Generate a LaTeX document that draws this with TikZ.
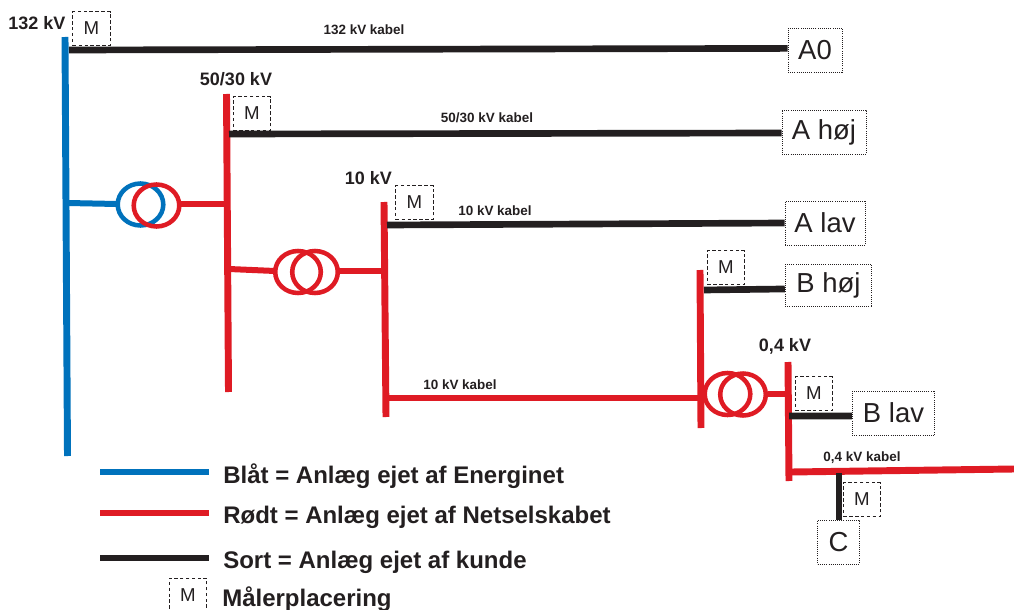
\documentclass[tikz,border=0pt]{standalone}
\usepackage{fontspec}
\setmainfont{Liberation Sans}
\definecolor{bl}{HTML}{0072BC}
\definecolor{rd}{HTML}{DF1B24}
\definecolor{bk}{HTML}{231F20}
\tikzset{
  bluew/.style={draw=bl,line width=5.2pt},
  redw/.style={draw=rd,line width=5.2pt},
  blackw/.style={draw=bk,line width=5pt},
  meter/.style={draw=bk,dash pattern=on 2.6pt off 1.8pt,line width=0.6pt,inner sep=0pt,font=\fontsize{14}{14}\selectfont,text=bk},
  load/.style={draw=bk,densely dotted,line width=0.6pt,inner sep=0pt,font=\fontsize{20.6}{21}\selectfont,text=bk},
  bus/.style={font=\bfseries\fontsize{13.5}{15}\selectfont,text=bk,inner sep=0pt},
  cab/.style={font=\bfseries\fontsize{10.1}{12}\selectfont,text=bk,inner sep=0pt},
  leg/.style={font=\bfseries\fontsize{18}{20}\selectfont,text=bk,inner sep=0pt,anchor=west},
}
\begin{document}
\begin{tikzpicture}[x=0.75pt,y=-0.75pt]
\useasboundingbox (0,0) rectangle (1014,610);
% coordinates of buses
\coordinate (b132t) at (65,37);   \coordinate (b132b) at (67.5,456);
\coordinate (b50t) at (226.5,94); \coordinate (b50b) at (228.5,392);
\coordinate (b10t) at (384,202);  \coordinate (b10b) at (386,417);
\coordinate (bBt) at (700,270);   \coordinate (bBb) at (701,428);
\coordinate (b04t) at (788,362);  \coordinate (b04b) at (789,481);
% load boxes
\node[load,minimum width=40.5pt,minimum height=33pt,text depth=-1pt] (A0) at (815,50) {A0};
\node[load,minimum width=63pt,minimum height=33pt] (Ah) at (824,132) {\raisebox{-0.7pt}{A høj}};
\node[load,minimum width=60pt,minimum height=33pt] (Al) at (825,223) {\raisebox{-0.7pt}{A lav}};
\node[load,minimum width=65pt,minimum height=32pt] (Bh) at (828.5,285.5) {B høj};
\node[load,minimum width=62pt,minimum height=33pt] (Bl) at (893.5,413) {\raisebox{-0.7pt}{B lav}};
\node[load,minimum width=31pt,minimum height=33pt] (C) at (838.5,542) {\raisebox{-0.7pt}{C}};
% meters
\node[meter,minimum width=28pt,minimum height=25pt] (m1) at (91.5,28.5) {M};
\node[meter,minimum width=28pt,minimum height=25pt] (m2) at (252,113.5) {M};
\node[meter,minimum width=28pt,minimum height=25pt] (m3) at (414.5,202.5) {M};
\node[meter,minimum width=28pt,minimum height=25pt] (m4) at (726,267.5) {M};
\node[meter,minimum width=28pt,minimum height=25pt] (m5) at (814,393.5) {M};
\node[meter,minimum width=28pt,minimum height=25pt] (m6) at (862,499.5) {M};
\node[meter,minimum width=28pt,minimum height=25pt] (m7) at (188,595) {M};
% buses
\draw[bluew] (b132t) -- (b132b);
\draw[redw] (b50t) -- (b50b);
\draw[redw] (b10t) -- (b10b);
\draw[redw] (bBt) -- (bBb);
\draw[redw] (b04t) -- (b04b);
% black feeders
\coordinate (f1) at (69,50);
\coordinate (f2) at (229,134);
\coordinate (f3) at (387,225);
\coordinate (f4) at (704,290);
\coordinate (f5) at (789,416);
\draw[blackw] (f1) -- ([yshift=1.2pt]A0.west);
\draw[blackw] (f2) -- ([yshift=-0.75pt]Ah.west);
\draw[blackw] (f3) -- (Al.west);
\draw[blackw] (f4) -- ([yshift=-2.6pt]Bh.west);
\draw[blackw] (f5) -- ([yshift=-2.2pt]Bl.west);
% transformer 1
\coordinate (s1a) at (68,203); \coordinate (s1b) at (226,204);
\node[draw=none,inner sep=0pt] (t1a) at (140.5,204.5) {};
\node[draw=none,inner sep=0pt] (t1b) at (156.5,205.5) {};
\draw[bl,line width=3.4pt] (t1a) ellipse [x radius=22.8,y radius=21];
\draw[rd,line width=3.4pt] (t1b) ellipse [x radius=22.8,y radius=21];
\draw[draw=bl,line width=4.5pt] (s1a) -- (117,204);
\draw[draw=rd,line width=4.5pt] (181,204) -- (s1b);
% transformer 2
\coordinate (s2a) at (229,269); \coordinate (s2b) at (384,271);
\node[inner sep=0pt] (t2a) at (298,272) {};
\node[inner sep=0pt] (t2b) at (315,272) {};
\draw[rd,line width=3.4pt] (t2a) ellipse [x radius=22.8,y radius=21];
\draw[rd,line width=3.4pt] (t2b) ellipse [x radius=22.8,y radius=21];
\draw[draw=rd,line width=4.5pt] (s2a) -- (275,271);
\draw[draw=rd,line width=4.5pt] (338,271) -- (s2b);
% transformer 3
\coordinate (s3a) at (387,398); \coordinate (s3b) at (788,394);
\node[inner sep=0pt] (t3a) at (727.5,394) {};
\node[inner sep=0pt] (t3b) at (743,394.5) {};
\draw[rd,line width=3.4pt] (t3a) ellipse [x radius=22.8,y radius=21];
\draw[rd,line width=3.4pt] (t3b) ellipse [x radius=22.8,y radius=21];
\draw[draw=rd,line width=4.5pt] (s3a) -- (702,398);
\draw[draw=rd,line width=4.5pt] (768,394) -- (s3b);
% 0,4 kV cable
\coordinate (k1) at (791,472); \coordinate (k2) at (1014,469);
\coordinate (k3) at (839,473);
\draw[redw] (k1) -- (k2);
\draw[draw=bk,line width=5pt] (k3) -- (k3 |- C.north);
% labels
\node[bus] (l1) at (37,23) {132 kV};
\node[bus] (l2) at (236,79.5) {50/30 kV};
\node[bus] (l3) at (368.5,178) {10 kV};
\node[bus] (l4) at (785,346) {0,4 kV};
\node[cab] (c1) at (364,29.5) {132 kV kabel};
\node[cab] (c2) at (487,118) {50/30 kV kabel};
\node[cab] (c3) at (495,210.5) {10 kV kabel};
\node[cab] (c4) at (460,385) {10 kV kabel};
\node[cab] (c5) at (862,458) {0,4 kV kabel};
% legend
\coordinate (la1) at (100,472); \coordinate (lb1) at (209,472);
\coordinate (la2) at (100,513); \coordinate (lb2) at (209,513);
\coordinate (la3) at (100,558); \coordinate (lb3) at (209,558);
\draw[draw=bl,line width=5.2pt] (la1) -- (lb1);
\draw[draw=rd,line width=5.2pt] (la2) -- (lb2);
\draw[draw=bk,line width=5.2pt] (la3) -- (lb3);
\node[leg] (g1) at (223,476) {Blåt = Anlæg ejet af Energinet};
\node[leg] (g2) at (223,517) {Rødt = Anlæg ejet af Netselskabet};
\node[leg] (g3) at (223,562) {Sort = Anlæg ejet af kunde};
\node[leg] (g4) at (222,599) {Målerplacering};
\end{tikzpicture}
\end{document}
